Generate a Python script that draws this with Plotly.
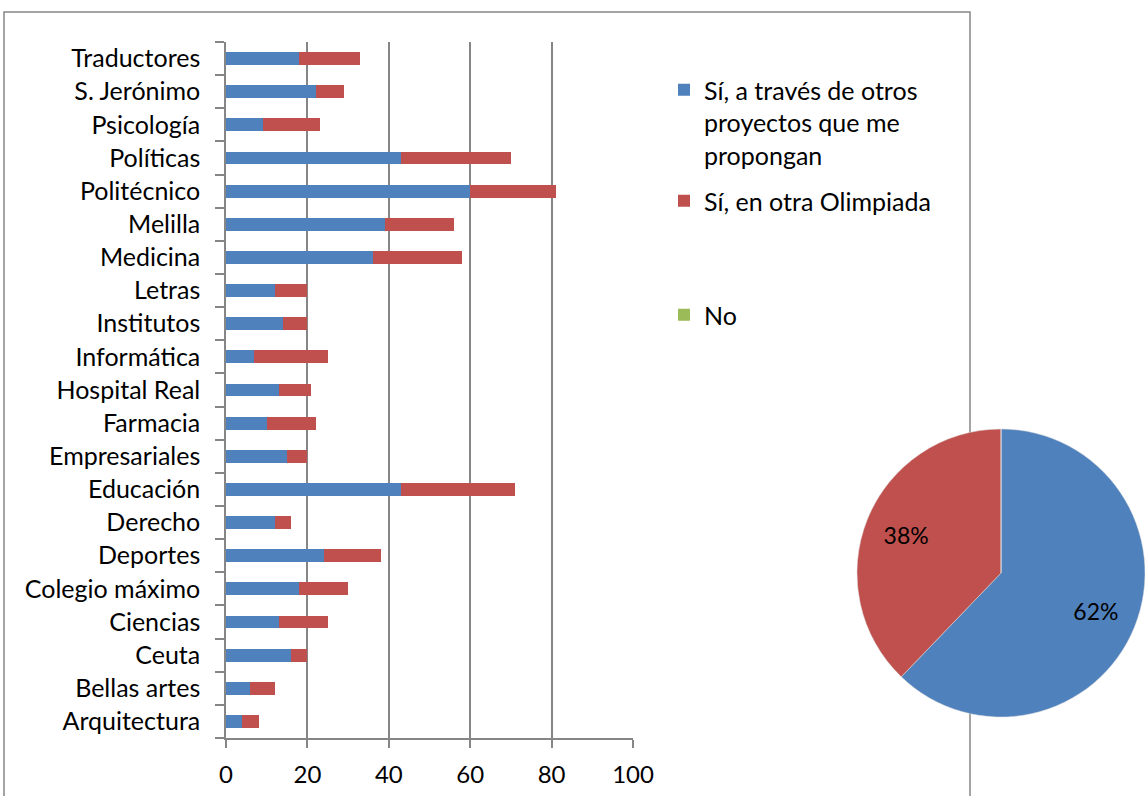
import plotly.graph_objects as go

W, H = 1145, 796

categories = ["Arquitectura", "Bellas artes", "Ceuta", "Ciencias", "Colegio máximo",
              "Deportes", "Derecho", "Educación", "Empresariales", "Farmacia",
              "Hospital Real", "Informática", "Institutos", "Letras", "Medicina",
              "Melilla", "Politécnico", "Políticas", "Psicología", "S. Jerónimo",
              "Traductores"]
si_otros = [4, 6, 16, 13, 18, 24, 12, 43, 15, 10, 13, 7, 14, 12, 36, 39, 60, 43, 9, 22, 18]
si_olimpiada = [4, 6, 4, 12, 12, 14, 4, 28, 5, 12, 8, 18, 6, 8, 22, 17, 21, 27, 14, 7, 15]
no = [0] * len(categories)
x_ticks = [0, 20, 40, 60, 80, 100]

name_otros = "Sí, a través de otros<br>proyectos que me<br>propongan"
name_olimp = "Sí, en otra Olimpiada"
name_no = "No"
pie_labels = ["Sí, a través de otros proyectos que me propongan", "Sí, en otra Olimpiada", "No"]

BLUE, RED, GREEN = "#4F81BD", "#C0504D", "#9BBB59"
GREY = "#868686"
FONT = "Lato"

def px_x(p):
    return p / W

def px_y(p):
    return 1 - p / H

pie_values = [sum(si_otros), sum(si_olimpiada), sum(no)]
pie_domain = dict(x=[px_x(857), 1.0], y=[px_y(723), px_y(423)])

fig = go.Figure()
fig.add_trace(go.Bar(y=categories, x=si_otros, orientation="h", name=name_otros,
                     marker=dict(color=BLUE, line=dict(width=0)), legend="legend"))
fig.add_trace(go.Bar(y=categories, x=si_olimpiada, orientation="h", name=name_olimp,
                     marker=dict(color=RED, line=dict(width=0)), legend="legend2"))
fig.add_trace(go.Bar(y=categories, x=no, orientation="h", name=name_no,
                     marker=dict(color=GREEN, line=dict(width=0)), legend="legend3"))

# filled pie
fig.add_trace(go.Pie(labels=pie_labels, values=pie_values,
                     marker=dict(colors=[BLUE, RED, GREEN], line=dict(width=0.5, color="#dddddd")),
                     sort=False, direction="clockwise", rotation=0,
                     textinfo="none", showlegend=False, hoverinfo="label+percent",
                     domain=pie_domain))
# transparent ring overlay to place the percentage labels further out
fig.add_trace(go.Pie(labels=pie_labels, values=pie_values, hole=0.42,
                     marker=dict(colors=["rgba(0,0,0,0)"] * 3, line=dict(width=0)),
                     sort=False, direction="clockwise", rotation=0,
                     texttemplate="%{percent:.0%}", textposition="inside",
                     insidetextorientation="horizontal",
                     textfont=dict(family=FONT, size=23, color="black"),
                     showlegend=False, hoverinfo="skip",
                     domain=pie_domain))

legend_common = dict(xref="container", yref="container", xanchor="left", yanchor="top",
                     font=dict(family=FONT, size=25, color="black"), valign="top",
                     bgcolor="rgba(0,0,0,0)", borderwidth=0)

fig.update_layout(
    width=W, height=H,
    margin=dict(l=0, r=0, t=0, b=0, autoexpand=False),
    paper_bgcolor="white", plot_bgcolor="white",
    barmode="stack", bargap=0.61,
    font=dict(family=FONT, size=25, color="black"),
    xaxis=dict(domain=[px_x(226), px_x(633)], range=[0, 100], tickvals=x_ticks,
               showgrid=True, gridcolor=GREY, gridwidth=1.5,
               showline=True, linecolor=GREY, linewidth=1.5,
               ticks="outside", ticklen=8, tickcolor=GREY, tickwidth=1.5,
               tickfont=dict(family=FONT, size=24, color="black"), zeroline=False,
               ticklabelstandoff=6, fixedrange=True),
    yaxis=dict(domain=[px_y(738), px_y(42)], type="category",
               categoryorder="array", categoryarray=categories,
               showline=True, linecolor=GREY, linewidth=1.5,
               ticks="outside", ticklen=9, tickcolor=GREY, tickwidth=1.5,
               tickson="boundaries", showgrid=False,
               tickfont=dict(family=FONT, size=25, color="black"),
               ticklabelstandoff=19, fixedrange=True),
    legend=dict(x=px_x(664), y=px_y(67), **legend_common),
    legend2=dict(x=px_x(664), y=px_y(178), **legend_common),
    legend3=dict(x=px_x(664), y=px_y(292), **legend_common),
    shapes=[dict(type="rect", xref="paper", yref="paper",
                 x0=px_x(4), x1=px_x(970), y0=px_y(820), y1=px_y(12),
                 line=dict(color=GREY, width=1.5), fillcolor="rgba(0,0,0,0)", layer="below")],
)

fig.write_html("out.html", config={"displayModeBar": False},
               post_script="document.body.style.margin='0';document.body.style.overflow='hidden';")
